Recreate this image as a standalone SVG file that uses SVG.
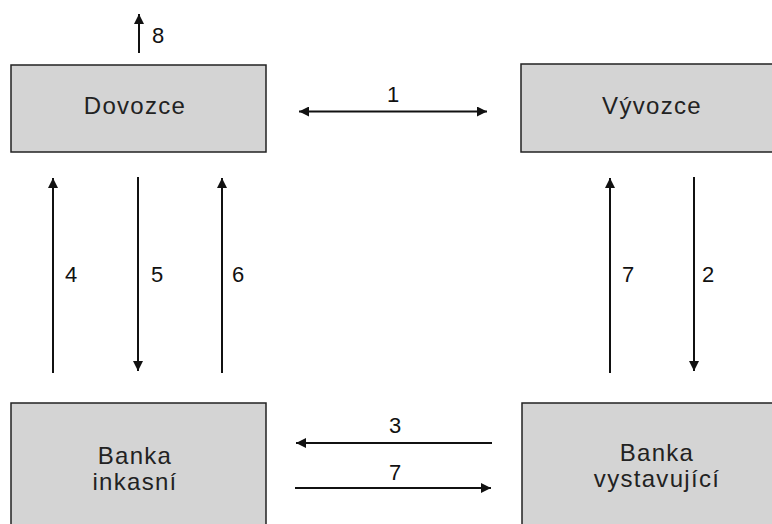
<svg xmlns="http://www.w3.org/2000/svg" width="772" height="524" viewBox="0 0 772 524">
<style>
.box{fill:#d4d4d4;stroke:#222;stroke-width:1.5}
.bt{font-family:"Liberation Sans",Arial,sans-serif;font-size:24px;fill:#222;text-anchor:middle;letter-spacing:1.3px}
.lb{font-family:"Liberation Sans",Arial,sans-serif;font-size:22px;fill:#111}
.ln{stroke:#111;stroke-width:2;fill:none}
</style>
<defs>
<marker id="ah" viewBox="0 0 10 10" refX="10" refY="5" markerWidth="5" markerHeight="5" orient="auto-start-reverse" markerUnits="strokeWidth">
<path d="M0,0 L10,5 L0,10 z" fill="#111"/>
</marker>
</defs>
<rect width="772" height="524" fill="#fff"/>
<g id="dovozce"><rect class="box" x="11" y="65" width="255" height="87"/><text class="bt" x="135" y="114">Dovozce</text></g>
<g id="vyvozce"><rect class="box" x="521" y="64" width="262" height="88"/><text class="bt" x="652" y="114">Vývozce</text></g>
<g id="banka-inkasni"><rect class="box" x="11" y="403" width="255" height="130"/><text class="bt" x="135" y="464">Banka</text><text class="bt" x="135" y="490">inkasní</text></g>
<g id="banka-vystavujici"><rect class="box" x="522" y="403" width="262" height="130"/><text class="bt" x="657" y="461">Banka</text><text class="bt" x="657" y="487">vystavující</text></g>
<g id="connectors">
<line class="ln" x1="139" y1="53" x2="139" y2="14" marker-end="url(#ah)"/>
<line class="ln" x1="299" y1="111.5" x2="487" y2="111.5" marker-start="url(#ah)" marker-end="url(#ah)"/>
<line class="ln" x1="53" y1="373" x2="53" y2="178" marker-end="url(#ah)"/>
<line class="ln" x1="138" y1="177" x2="138" y2="371" marker-end="url(#ah)"/>
<line class="ln" x1="222" y1="373" x2="222" y2="178" marker-end="url(#ah)"/>
<line class="ln" x1="610" y1="373" x2="610" y2="178" marker-end="url(#ah)"/>
<line class="ln" x1="694" y1="177" x2="694" y2="371" marker-end="url(#ah)"/>
<line class="ln" x1="492" y1="443" x2="296" y2="443" marker-end="url(#ah)"/>
<line class="ln" x1="295" y1="488" x2="491" y2="488" marker-end="url(#ah)"/>
<text class="lb" x="152" y="43">8</text>
<text class="lb" x="393" y="102" text-anchor="middle">1</text>
<text class="lb" x="65" y="282">4</text>
<text class="lb" x="151" y="282">5</text>
<text class="lb" x="232" y="282">6</text>
<text class="lb" x="622" y="282">7</text>
<text class="lb" x="702" y="282">2</text>
<text class="lb" x="395" y="433" text-anchor="middle">3</text>
<text class="lb" x="395" y="480" text-anchor="middle">7</text>
</g>
</svg>
